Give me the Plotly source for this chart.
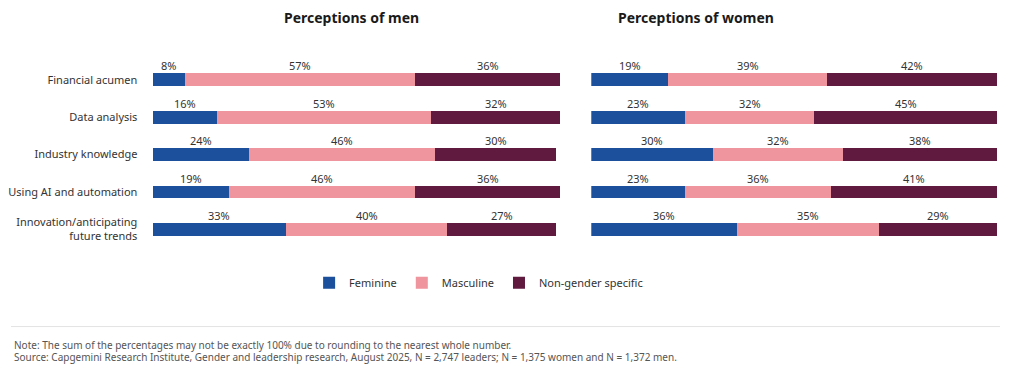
import plotly.graph_objects as go

categories = ["Financial acumen", "Data analysis", "Industry knowledge",
              "Using AI and automation", "Innovation/anticipating<br>future trends"]
series_names = ["Feminine", "Masculine", "Non-gender specific"]
men_feminine = [8, 16, 24, 19, 33]
men_masculine = [57, 53, 46, 46, 40]
men_nongender = [36, 32, 30, 36, 27]
women_feminine = [19, 23, 30, 23, 36]
women_masculine = [39, 32, 32, 36, 35]
women_nongender = [42, 45, 38, 41, 29]
colors = ["#1C4F9C", "#EF959D", "#601A40"]

W, H = 1016, 362          # page body adds an 8px margin
TOP, BOT = 52.75, 245.25  # plot area in figure px
PH = BOT - TOP


def py(p):
    return (BOT - p) / PH


fig = go.Figure()
panels = [("x", "y", [men_feminine, men_masculine, men_nongender]),
          ("x2", "y2", [women_feminine, women_masculine, women_nongender])]
annotations = []
for pi, (xa, ya, series) in enumerate(panels):
    for si, vals in enumerate(series):
        fig.add_trace(go.Bar(
            y=categories, x=vals, orientation="h", name=series_names[si],
            marker=dict(color=colors[si], line=dict(width=0)),
            width=0.34, xaxis=xa, yaxis=ya, showlegend=(pi == 0),
            hoverinfo="skip"))
    for ci, cat in enumerate(categories):
        cum = 0
        for si, vals in enumerate(series):
            v = vals[ci]
            annotations.append(dict(
                x=cum + v / 2, y=cat, xref=xa, yref=ya, text=f"{v}%",
                showarrow=False, yshift=14, yanchor="middle",
                font=dict(size=11, color="#333333")))
            cum += v

annotations += [
    dict(x=342 / W, y=py(9), xref="paper", yref="paper", yanchor="middle",
         text="<b>Perceptions of men</b>", showarrow=False,
         font=dict(size=14, color="#1a1a1a")),
    dict(x=767 / W, y=py(9), xref="paper", yref="paper", yanchor="middle",
         text="<b>Perceptions of women</b>", showarrow=False,
         font=dict(size=14, color="#1a1a1a")),
    dict(x=1 / W, y=py(337), xref="paper", yref="paper",
         xanchor="left", yanchor="middle", showarrow=False,
         text="Note: The sum of the percentages may not be exactly 100% due to rounding to the nearest whole number.",
         font=dict(size=10, color="#555555")),
    dict(x=1 / W, y=py(350), xref="paper", yref="paper",
         xanchor="left", yanchor="middle", showarrow=False,
         text="Source: Capgemini Research Institute, Gender and leadership research, August 2025, N = 2,747 leaders; N = 1,375 women and N = 1,372 men.",
         font=dict(size=10, color="#555555")),
]

fig.update_layout(
    width=W, height=H,
    margin=dict(l=0, r=0, t=TOP, b=H - BOT),
    barmode="stack",
    paper_bgcolor="white", plot_bgcolor="white",
    font=dict(family="Noto Sans, Open Sans, sans-serif", color="#333333"),
    xaxis=dict(domain=[142 / W, 551 / W], range=[0, 101], visible=False, fixedrange=True),
    xaxis2=dict(domain=[582 / W, 989 / W], range=[0, 100], visible=False, fixedrange=True),
    yaxis=dict(anchor="x", autorange="reversed", showgrid=False, zeroline=False,
               showline=False, ticks="outside", ticklen=12, tickcolor="rgba(0,0,0,0)",
               tickfont=dict(size=11, color="#333333")),
    yaxis2=dict(anchor="x2", autorange="reversed", showgrid=False, zeroline=False,
                showline=False, showticklabels=False),
    legend=dict(orientation="h", x=469 / W, xanchor="center",
                y=py(275), yanchor="middle",
                font=dict(size=11, color="#333333"), itemwidth=30,
                traceorder="normal"),
    annotations=annotations,
    shapes=[dict(type="line", xref="paper", yref="paper", x0=0, x1=992 / W,
                 y0=py(319), y1=py(319),
                 line=dict(color="#e3e3e3", width=1))],
)

fig.write_html("out.html")
